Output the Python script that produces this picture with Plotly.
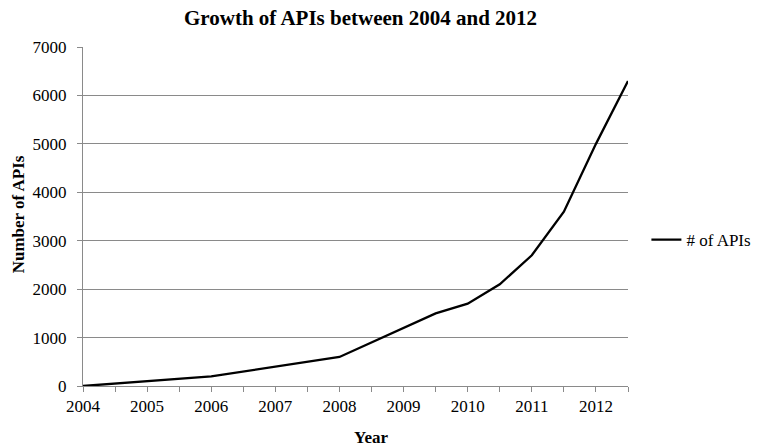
import plotly.graph_objects as go

# API counts by year (half-year resolution where the growth curve bends)
years = [2004, 2006, 2008, 2009.5, 2010, 2010.5, 2011, 2011.5, 2012, 2012.5]
num_apis = [0, 200, 600, 1500, 1700, 2100, 2700, 3600, 5000, 6300]

year_labels = [2004, 2005, 2006, 2007, 2008, 2009, 2010, 2011, 2012]
y_ticks = [0, 1000, 2000, 3000, 4000, 5000, 6000, 7000]

SERIF = "Liberation Serif"
GRID = "#8a8a8a"

W, H = 758, 446
L, R, T, B = 82.7, 130.4, 47, 60
plot_w = W - L - R
plot_h = H - T - B

# tick marks every half year, labels only on whole years
tick_vals = [2004 + 0.5 * i for i in range(18)]
tick_text = [str(int(v)) if v in year_labels else "" for v in tick_vals]

fig = go.Figure()
fig.add_trace(go.Scatter(
    x=years, y=num_apis, mode="lines", name="# of APIs",
    line=dict(color="black", width=2.3),
))


def px_x(px):
    return (px - L) / plot_w


def px_y(py):
    return (H - B - py) / plot_h


fig.update_layout(
    width=W, height=H,
    margin=dict(l=L, r=R, t=T, b=B, autoexpand=False),
    paper_bgcolor="white", plot_bgcolor="white",
    font=dict(family=SERIF, size=17, color="black"),
    showlegend=True,
    legend=dict(
        x=px_x(646), y=px_y(240), xanchor="left", yanchor="middle",
        font=dict(family=SERIF, size=17, color="black"),
        bgcolor="rgba(0,0,0,0)", itemwidth=30,
    ),
    xaxis=dict(
        range=[2004, 2012.5], tickmode="array",
        tickvals=tick_vals, ticktext=tick_text,
        showgrid=False, zeroline=False,
        showline=True, linecolor=GRID, linewidth=1,
        ticks="outside", ticklen=5, tickcolor=GRID, tickwidth=1,
        tickfont=dict(family=SERIF, size=17, color="black"),
    ),
    yaxis=dict(
        range=[0, 7000], tickmode="array", tickvals=y_ticks,
        showgrid=True, gridcolor=GRID, gridwidth=1, zeroline=False,
        showline=True, linecolor=GRID, linewidth=1,
        ticks="outside", ticklen=5, tickcolor=GRID, tickwidth=1,
        tickfont=dict(family=SERIF, size=17, color="black"),
        ticklabelstandoff=7,
    ),
    annotations=[
        dict(text="<b>Growth of APIs between 2004 and 2012</b>",
             xref="paper", yref="paper", x=px_x(360.5), y=px_y(4),
             xanchor="center", yanchor="top", showarrow=False,
             font=dict(family=SERIF, size=21, color="black")),
        dict(text="<b>Year</b>",
             xref="paper", yref="paper", x=px_x(370.5), y=px_y(449),
             xanchor="center", yanchor="bottom", showarrow=False,
             font=dict(family=SERIF, size=17, color="black")),
        dict(text="<b>Number of APIs</b>", textangle=-90,
             xref="paper", yref="paper", x=px_x(19), y=px_y(214),
             xanchor="center", yanchor="middle", showarrow=False,
             font=dict(family=SERIF, size=17, color="black")),
    ],
)

fig.write_html("out.html")
